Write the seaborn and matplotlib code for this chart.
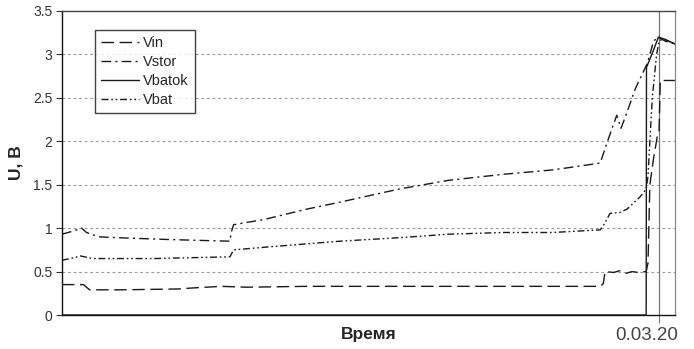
import matplotlib
matplotlib.use("Agg")
import matplotlib.pyplot as plt
import seaborn as sns
import pandas as pd

# Time axis in arbitrary units (0..100), voltages in volts
vin_t = [0, 3.5, 4.5, 10, 19, 21, 26, 30, 40, 60, 87.8, 88.3, 88.6, 90, 91, 92, 93, 94, 95.3, 95.6, 95.9, 96.5, 97.1, 97.4, 97.6, 100]
vin_v = [0.35, 0.35, 0.29, 0.29, 0.30, 0.31, 0.33, 0.32, 0.33, 0.33, 0.33, 0.36, 0.50, 0.49, 0.51, 0.48, 0.50, 0.49, 0.50, 0.60, 1.50, 1.80, 2.05, 2.10, 2.70, 2.70]

vstor_t = [0, 2, 3.2, 4, 6, 9, 13, 17, 22, 27.4, 27.6, 28, 33, 40, 45.4, 55, 63, 72, 80, 85, 87.8, 89, 90.5, 91.2, 92, 93.5, 95.5, 96.5, 97.2, 98.5, 100]
vstor_v = [0.93, 0.97, 1.00, 0.95, 0.90, 0.89, 0.88, 0.87, 0.86, 0.85, 0.95, 1.04, 1.10, 1.22, 1.30, 1.45, 1.55, 1.62, 1.67, 1.72, 1.75, 2.00, 2.30, 2.15, 2.30, 2.60, 2.90, 3.15, 3.20, 3.15, 3.12]

vbatok_t = [0, 95.3, 95.35, 96.5, 97.3, 98.5, 100]
vbatok_v = [0.0, 0.0, 2.85, 3.05, 3.20, 3.17, 3.12]

vbat_t = [0, 2, 3, 5, 15, 27.4, 28, 33, 40, 45.4, 55, 63, 72, 80, 87.8, 88.5, 89.4, 91, 92.2, 94.3, 95.3, 95.6, 95.9, 96.3, 97.0, 97.4, 98, 100]
vbat_v = [0.63, 0.66, 0.68, 0.65, 0.65, 0.67, 0.75, 0.78, 0.82, 0.85, 0.89, 0.93, 0.95, 0.95, 0.98, 1.05, 1.17, 1.18, 1.22, 1.36, 1.45, 1.60, 2.00, 2.50, 3.00, 3.15, 3.18, 3.12]

marker_t = 97.4
marker_label = "0.03.20"
ytick_vals = [0, 0.5, 1, 1.5, 2, 2.5, 3, 3.5]
ytick_labels = ["0", "0.5", "1", "1.5", "2", "2.5", "3", "3.5"]

sns.set_style("white")
plt.rcParams["font.family"] = ["Liberation Sans", "DejaVu Sans"]

fig = plt.figure(figsize=(6.94, 3.49), dpi=100)
ax = fig.add_axes([0.0893, 0.0974, 0.8833, 0.8711])

# horizontal grid
for yv in ytick_vals[1:-1]:
    ax.axhline(yv, color="#9a9a9a", lw=0.8, ls=(0, (2.5, 2.5)), zorder=0)

# time marker
ax.axvline(marker_t, color="#777777", lw=0.9, zorder=1)

series = [
    ("Vin", vin_t, vin_v, (0, (9, 4))),
    ("Vstor", vstor_t, vstor_v, (0, (7, 3, 1.5, 3))),
    ("Vbatok", vbatok_t, vbatok_v, "-"),
    ("Vbat", vbat_t, vbat_v, (0, (5, 2, 1.2, 2, 1.2, 2))),
]
for name, t, v, ls in series:
    df = pd.DataFrame({"t": t, "v": v})
    sns.lineplot(data=df, x="t", y="v", ax=ax, color="#1a1a1a", lw=1.0,
                 linestyle=ls, sort=False, estimator=None, label=name)

ax.set_xlim(0, 100)
ax.set_ylim(0, 3.5)
ax.set_yticks(ytick_vals)
ax.set_yticklabels(ytick_labels, fontsize=10, color="#333333")
ax.set_xticks([marker_t])
ax.set_xticklabels([""])
ax.tick_params(axis="y", length=4, width=0.8, color="#333333", left=True, pad=3)
ax.tick_params(axis="x", length=6, width=0.8, color="#777777", bottom=True)

for side in ["left", "bottom"]:
    ax.spines[side].set_color("#111111")
    ax.spines[side].set_linewidth(1.0)
ax.spines["top"].set_color("#444444")
ax.spines["top"].set_linewidth(1.0)
ax.spines["right"].set_color("#888888")
ax.spines["right"].set_linewidth(0.9)

ax.set_xlabel("Время", fontsize=12.5, fontweight="bold")
ax.xaxis.set_label_coords(0.5, -0.04)
ax.set_ylabel("U, B", fontsize=12.5, fontweight="bold", labelpad=7)

ax.text(95.4, -0.04, marker_label, transform=ax.get_xaxis_transform(),
        ha="center", va="top", fontsize=13.5, color="#444444")

leg = ax.legend(loc="upper left", bbox_to_anchor=(0.054, 0.9375), borderaxespad=0,
                frameon=True, fancybox=False, fontsize=10.5, handlelength=2.6,
                handletextpad=0.3, labelspacing=0.35, borderpad=0.4)
leg.get_frame().set_edgecolor("#111111")
leg.get_frame().set_linewidth(1.0)

fig.savefig("out.png", dpi=100)
